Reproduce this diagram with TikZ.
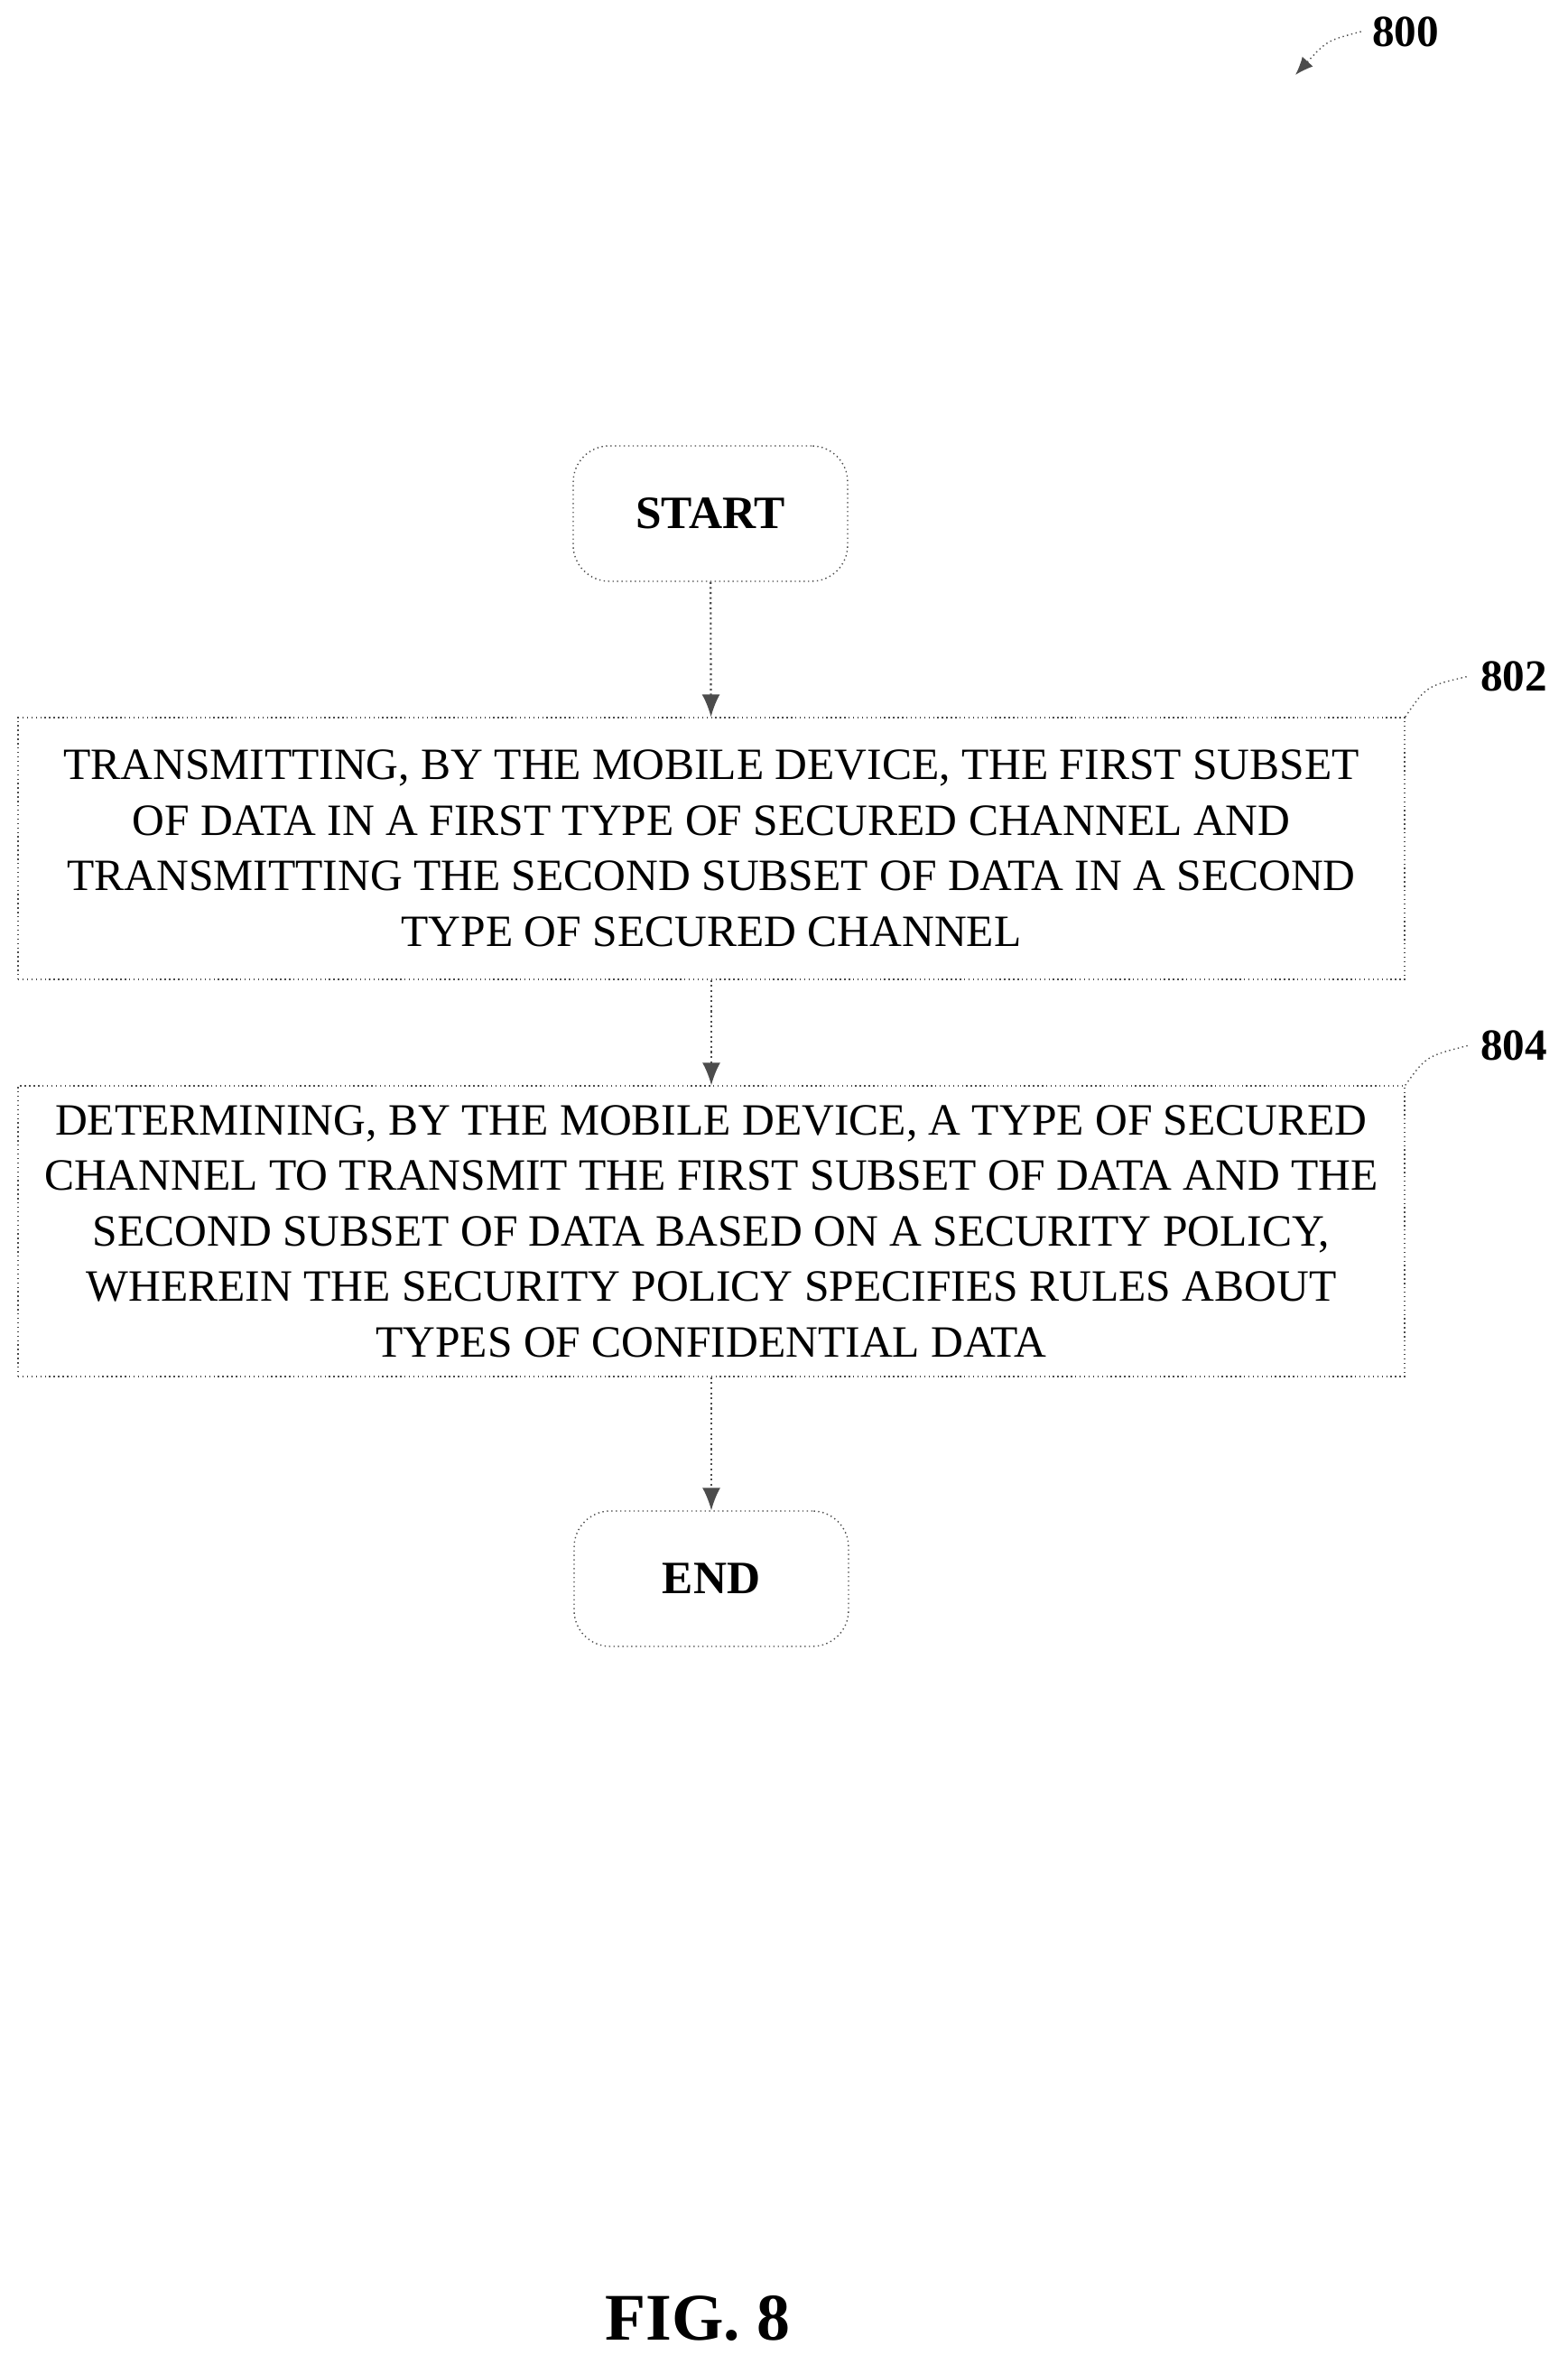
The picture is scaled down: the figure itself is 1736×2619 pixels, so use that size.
\documentclass[tikz,border=0pt]{standalone}
\usepackage{fontspec}
\setmainfont{Liberation Serif}
\usetikzlibrary{arrows.meta, positioning, calc}
\tikzset{
  stepbox/.style={rectangle, draw=black!70, densely dotted, minimum width=153.6mm, minimum height=29mm,
    align=center, font=\fontsize{14.1}{17.5}\selectfont, inner sep=0pt},
  term/.style={rectangle, draw=black!70, densely dotted, rounded corners=4mm, minimum width=30.4mm,
    minimum height=15mm, font=\fontsize{14.6}{16}\selectfont\bfseries},
  flow/.style={-{Latex[length=2.5mm,width=2mm]}, draw=black!70, densely dotted, line width=0.6pt},
  reflabel/.style={font=\fontsize{14}{16}\selectfont\bfseries}
}
\begin{document}
\begin{tikzpicture}[x=0.1mm, y=-0.1mm]
    \useasboundingbox (0,0) rectangle (1736,2619);
    \node[term] (start) at (787,569) {START};
    \node[stepbox] (s802) at (788,940) {TRANSMITTING, BY THE MOBILE DEVICE, THE FIRST SUBSET\\
    OF DATA IN A FIRST TYPE OF SECURED CHANNEL AND\\
    TRANSMITTING THE SECOND SUBSET OF DATA IN A SECOND\\
    TYPE OF SECURED CHANNEL};
    \node[stepbox, minimum height=32.2mm] (s804) at (788,1364) {DETERMINING, BY THE MOBILE DEVICE, A TYPE OF SECURED\\
    CHANNEL TO TRANSMIT THE FIRST SUBSET OF DATA AND THE\\
    SECOND SUBSET OF DATA BASED ON A SECURITY POLICY,\\
    WHEREIN THE SECURITY POLICY SPECIFIES RULES ABOUT\\
    TYPES OF CONFIDENTIAL DATA};
    \node[term] (end) at (788,1749) {END};
    \draw[flow] (start) -- (s802);
    \draw[flow] (s802) -- (s804);
    \draw[flow] (s804) -- (end);
    % reference labels
    \node[reflabel] (l802) at (1677,749) {802};
    \node[reflabel] (l804) at (1677,1158) {804};
    \node[reflabel] (l800) at (1557,35) {800};
    \draw[black!70, densely dotted] (s802.north east) .. controls (1580,760) .. (l802.west);
    \draw[black!70, densely dotted] (s804.north east) .. controls (1580,1170) .. (l804.west);
    \coordinate (a800) at (1435,83);
    \draw[black!70, densely dotted, -{Latex[length=2mm,width=1.6mm]}] (l800.west) .. controls (1470,45) .. (a800);
    \node[font=\fontsize{21}{24}\selectfont\bfseries] (fig) at (773,2568) {FIG. 8};
\end{tikzpicture}
\end{document}
